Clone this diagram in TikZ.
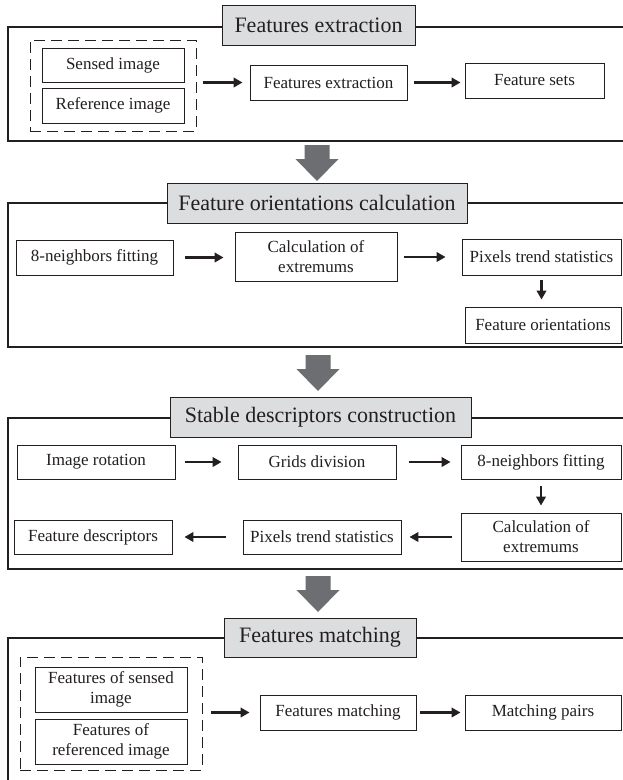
\documentclass[tikz,border=0pt]{standalone}
\usepackage{fontspec}
\setmainfont{Liberation Serif}
\newfontfamily\timesfont{Liberation Serif}
\usetikzlibrary{arrows.meta,calc}
\definecolor{ink}{HTML}{231F20}
\definecolor{titlefill}{HTML}{DCDDDE}
\definecolor{bigarrow}{HTML}{6D6E71}
\begin{document}
\begin{tikzpicture}[x=1pt,y=-1pt,
  box/.style={draw=ink, line width=0.9pt, text=ink, inner sep=0pt, align=center, font=\timesfont\fontsize{17}{20}\selectfont},
  titlebox/.style={draw=ink, line width=1pt, fill=titlefill, text=ink, inner sep=0pt, font=\timesfont\fontsize{22}{24}\selectfont},
  outerbox/.style={draw=ink, line width=1.6pt},
  dashbox/.style={draw=ink, line width=1pt, dash pattern=on 11pt off 6pt, inner sep=0pt},
  flow/.style={draw=ink, line width=2.2pt, -{Triangle[length=9pt,width=9.5pt]}},
  bigdown/.pic={\fill[bigarrow] (-12.5,0) -- (12.5,0) -- (12.5,14) -- (21.5,14) -- (0,36) -- (-21.5,14) -- (-12.5,14) -- cycle;}
]
\useasboundingbox (0,0) rectangle (623,780);
\clip (0,0) rectangle (623,780);
\fill[white] (0,0) rectangle (623,780);

% ---------------- Section 1 ----------------
\draw[outerbox] (8,27) rectangle (660,141);
\node[titlebox, minimum width=193pt, minimum height=40pt] (t1) at (318.5,25) {Features extraction};
\node[dashbox, minimum width=166pt, minimum height=91pt] (d1) at (113,85.5) {};
\node[box, minimum width=142pt, minimum height=34pt] (sens) at (113,65.5) {Sensed image};
\node[box, minimum width=142pt, minimum height=35pt] (refi) at (113,105.5) {Reference image};
\node[box, minimum width=157pt, minimum height=35pt] (fe) at (328.5,82.5) {Features extraction};
\node[box, minimum width=139pt, minimum height=35pt] (fs) at (534.5,80.5) {Feature sets};
\draw[flow, shorten <=6pt, shorten >=7pt] (d1.east |- fe.west) -- (fe.west);
\draw[flow, shorten <=7pt, shorten >=4pt] (fe.east) -- (fs.west |- fe.east);

\pic at (317,145) {bigdown};

% ---------------- Section 2 ----------------
\draw[outerbox] (8,203) rectangle (660,347);
\node[titlebox, minimum width=300pt, minimum height=40pt] (t2) at (317,203) {Feature orientations calculation};
\node[box, minimum width=157pt, minimum height=35pt] (nb1) at (94.5,257.5) {8-neighbors fitting};
\node[box, minimum width=162pt, minimum height=49pt] (calc1) at (316,256.5) {Calculation of\\extremums};
\node[box, minimum width=159pt, minimum height=36pt] (pts1) at (541.5,257) {Pixels trend statistics};
\node[box, minimum width=156pt, minimum height=36pt] (fo) at (543,325) {Feature orientations};
\draw[flow, shorten <=12pt, shorten >=11pt] (nb1.east) -- (calc1.west |- nb1.east);
\draw[flow, shorten <=7pt, shorten >=16pt] (calc1.east |- pts1.west) -- (pts1.west);
\draw[flow, shorten <=5pt, shorten >=7pt] (pts1.south) -- (pts1.south |- fo.north);

\pic at (318,355) {bigdown};

% ---------------- Section 3 ----------------
\draw[outerbox] (8,418) rectangle (660,569);
\node[titlebox, minimum width=301pt, minimum height=40pt] (t3) at (320.5,417) {Stable descriptors construction};
\node[box, minimum width=158pt, minimum height=34pt] (ir) at (96,462) {Image rotation};
\node[box, minimum width=158pt, minimum height=34pt] (gd) at (317,462) {Grids division};
\node[box, minimum width=160pt, minimum height=34pt] (nb2) at (541,462) {8-neighbors fitting};
\node[box, minimum width=160pt, minimum height=48pt] (calc2) at (541,537) {Calculation of\\extremums};
\node[box, minimum width=158pt, minimum height=34pt] (pts2) at (322,537) {Pixels trend statistics};
\node[box, minimum width=158pt, minimum height=34pt] (fd) at (93,537) {Feature descriptors};
\draw[flow, shorten <=10pt, shorten >=16pt] (ir.east) -- (gd.west);
\draw[flow, shorten <=13pt, shorten >=10pt] (gd.east) -- (nb2.west);
\draw[flow, shorten <=7pt, shorten >=7pt] (nb2.south) -- (calc2.north);
\draw[flow, shorten <=9pt, shorten >=8pt] (calc2.west) -- (pts2.east);
\draw[flow, shorten <=17pt, shorten >=12pt] (pts2.west) -- (fd.east);

\pic at (318,576) {bigdown};

% ---------------- Section 4 ----------------
\draw[outerbox] (8,638) rectangle (660,800);
\node[titlebox, minimum width=192pt, minimum height=39pt] (t4) at (320,637.5) {Features matching};
\node[dashbox, minimum width=182pt, minimum height=113pt] (d4) at (111,713.5) {};
\node[box, minimum width=152pt, minimum height=45pt] (fsi) at (111,689.5) {Features of sensed\\image};
\node[box, minimum width=152pt, minimum height=45pt] (fri) at (111,741.5) {Features of\\referenced image};
\node[box, minimum width=156pt, minimum height=35pt] (fm) at (338,712.5) {Features matching};
\node[box, minimum width=156pt, minimum height=35pt] (mp) at (543,712.5) {Matching pairs};
\draw[flow, shorten <=8pt, shorten >=10pt] (d4.east |- fm.west) -- (fm.west);
\draw[flow, shorten <=4pt, shorten >=4pt] (fm.east) -- (mp.west);
\end{tikzpicture}
\end{document}
